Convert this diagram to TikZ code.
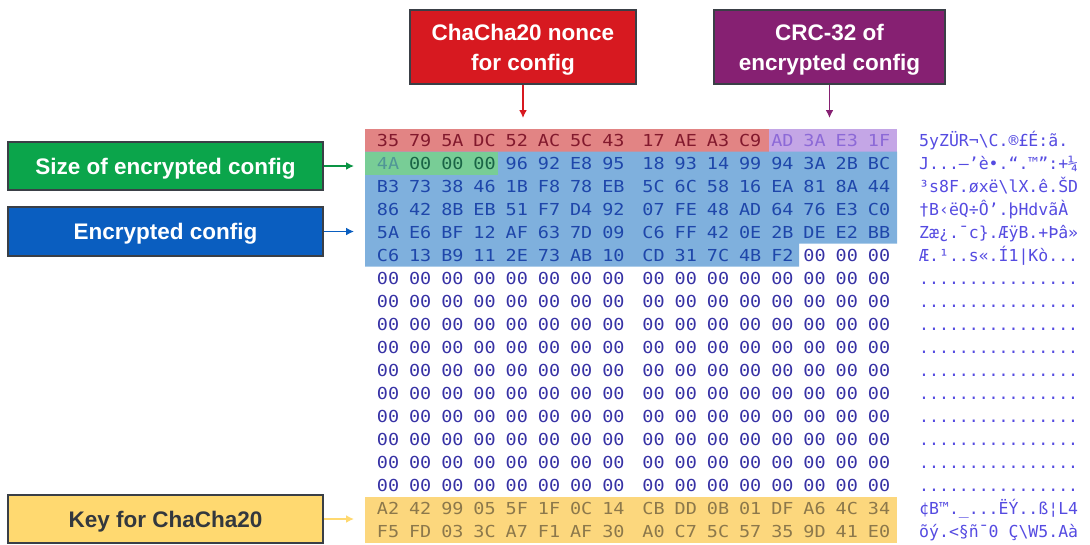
\documentclass[tikz,border=0pt]{standalone}
\usepackage{fontspec}
\setmainfont{Liberation Sans}
\newfontfamily\hexfont{DejaVu Sans Mono}[FakeStretch=1.12]
\newfontfamily\ascfont{DejaVu Sans Mono}
\usetikzlibrary{arrows.meta}
\definecolor{boxline}{RGB}{58,63,70}
\definecolor{cred}{RGB}{215,25,32}
\definecolor{cpurple}{RGB}{134,32,114}
\definecolor{cgreen}{RGB}{11,165,75}
\definecolor{cblue}{RGB}{10,94,192}
\definecolor{cyellow}{RGB}{255,217,112}
\definecolor{keytext}{RGB}{51,56,62}
\definecolor{bandred}{RGB}{226,132,132}
\definecolor{bandpurple}{RGB}{196,166,230}
\definecolor{bandgreen}{RGB}{120,205,150}
\definecolor{bandblue}{RGB}{127,176,221}
\definecolor{bandyellow}{RGB}{252,215,125}
\definecolor{hexred}{RGB}{130,25,45}
\definecolor{hexpurple}{RGB}{140,105,215}
\definecolor{hexteal}{RGB}{80,150,150}
\definecolor{hexgreen}{RGB}{25,100,70}
\definecolor{hexblue}{RGB}{30,70,170}
\definecolor{hexzero}{RGB}{55,50,165}
\definecolor{hexyellow}{RGB}{140,120,75}
\definecolor{asctext}{RGB}{85,75,225}
\begin{document}
\begin{tikzpicture}[x=1pt,y=-1pt,
  labelbox/.style={draw=boxline, line width=1.8pt, text=white,
    font=\fontsize{22.5}{30}\selectfont\bfseries, align=center, inner sep=0pt, text depth=0pt},
  hexb/.style={font=\hexfont\fontsize{16.5}{16.5}\selectfont, inner sep=0pt, anchor=base},
  asc/.style={font=\ascfont\fontsize{16.5}{16.5}\selectfont, inner sep=0pt, anchor=base west, text=asctext},
  arr/.style={line width=1.6pt, -{Latex[length=8pt,width=8pt]}}]
\useasboundingbox (0,0) rectangle (1090,544);

% bands
\fill[bandred] (365,128.5) rectangle (769,151.5);
\fill[bandpurple] (769,128.5) rectangle (897,151.5);
\fill[bandblue] (365,151.5) -- (897,151.5) -- (897,243.5) -- (799,243.5) -- (799,266.5) -- (365,266.5) -- cycle;
\fill[bandgreen] (365,151.5) rectangle (498,174.5);
\fill[bandyellow] (365,496.5) rectangle (897,542.5);

% hex bytes
\foreach \r/\bytes in {
  0/{35,79,5A,DC,52,AC,5C,43,17,AE,A3,C9,AD,3A,E3,1F},
  1/{4A,00,00,00,96,92,E8,95,18,93,14,99,94,3A,2B,BC},
  2/{B3,73,38,46,1B,F8,78,EB,5C,6C,58,16,EA,81,8A,44},
  3/{86,42,8B,EB,51,F7,D4,92,07,FE,48,AD,64,76,E3,C0},
  4/{5A,E6,BF,12,AF,63,7D,09,C6,FF,42,0E,2B,DE,E2,BB},
  5/{C6,13,B9,11,2E,73,AB,10,CD,31,7C,4B,F2,00,00,00},
  6/{00,00,00,00,00,00,00,00,00,00,00,00,00,00,00,00},
  7/{00,00,00,00,00,00,00,00,00,00,00,00,00,00,00,00},
  8/{00,00,00,00,00,00,00,00,00,00,00,00,00,00,00,00},
  9/{00,00,00,00,00,00,00,00,00,00,00,00,00,00,00,00},
  10/{00,00,00,00,00,00,00,00,00,00,00,00,00,00,00,00},
  11/{00,00,00,00,00,00,00,00,00,00,00,00,00,00,00,00},
  12/{00,00,00,00,00,00,00,00,00,00,00,00,00,00,00,00},
  13/{00,00,00,00,00,00,00,00,00,00,00,00,00,00,00,00},
  14/{00,00,00,00,00,00,00,00,00,00,00,00,00,00,00,00},
  15/{00,00,00,00,00,00,00,00,00,00,00,00,00,00,00,00},
  16/{A2,42,99,05,5F,1F,0C,14,CB,DD,0B,01,DF,A6,4C,34},
  17/{F5,FD,03,3C,A7,F1,AF,30,A0,C7,5C,57,35,9D,41,E0}} {
  \foreach \b [count=\c from 0] in \bytes {
    \pgfmathsetmacro{\xx}{388+32.2*\c+(\c>7)*8}
    \pgfmathsetmacro{\yy}{146+23*\r}
    \def\hc{hexzero}
    \ifnum\r<6 \def\hc{hexblue}\fi
    \ifnum\r=0 \ifnum\c>11 \def\hc{hexpurple}\else\def\hc{hexred}\fi\fi
    \ifnum\r=1 \ifnum\c<4 \def\hc{hexgreen}\fi \ifnum\c=0 \def\hc{hexteal}\fi\fi
    \ifnum\r=5 \ifnum\c>12 \def\hc{hexzero}\fi\fi
    \ifnum\r>15 \def\hc{hexyellow}\fi
    \node[hexb, text=\hc] (h\r-\c) at (\xx,\yy) {\b};
  }
}

% ASCII column
\node[asc] (a0) at (919,146) {5yZÜR¬\textbackslash{}C.®£É:ã.};
\node[asc] (a1) at (919,169) {J...–’è•.“.™”:+¼};
\node[asc] (a2) at (919,192) {³s8F.øxë\textbackslash{}lX.ê.ŠD};
\node[asc] (a3) at (919,215) {†B‹ëQ÷Ô’.þHdvãÀ};
\node[asc] (a4) at (919,238) {Zæ¿.¯c\}.ÆÿB.+Þâ»};
\node[asc] (a5) at (919,261) {Æ.¹..s«.Í1|Kò...};
\foreach \r in {6,...,15} {
  \pgfmathsetmacro{\yy}{146+23*\r}
  \node[asc] (a\r) at (919,\yy) {................};
}
\node[asc] (a16) at (919,514) {¢B™.\_...ËÝ..ß¦L4};
\node[asc] (a17) at (919,537) {õý.<§ñ¯0\ Ç\textbackslash{}W5.Aà};

% label boxes
\node[labelbox, fill=cred, minimum width=226pt, minimum height=74pt] (nonce) at (523,47) {ChaCha20 nonce\\for config};
\node[labelbox, fill=cpurple, minimum width=231pt, minimum height=74pt] (crc) at (829.5,47) {CRC-32 of\\encrypted config};
\node[labelbox, fill=cgreen, minimum width=315pt, minimum height=48pt] (size) at (165.5,166) {Size of encrypted config};
\node[labelbox, fill=cblue, minimum width=315pt, minimum height=49pt] (enc) at (165.5,231.5) {Encrypted config};
\node[labelbox, fill=cyellow, text=keytext, minimum width=315pt, minimum height=48pt] (key) at (165.5,519) {Key for ChaCha20};

% arrow ends
\coordinate (nonceend) at (523,118);
\coordinate (crcend) at (829.5,118);
\coordinate (sizeend) at (354,166);
\coordinate (encend) at (354,231.5);
\coordinate (keyend) at (354,519);

\draw[arr, cred] (nonce.south) -- (nonceend);
\draw[arr, cpurple] (crc.south) -- (crcend);
\draw[arr, cgreen!90!black] (size.east) -- (sizeend);
\draw[arr, cblue] (enc.east) -- (encend);
\draw[arr, cyellow] (key.east) -- (keyend);
\end{tikzpicture}
\end{document}
